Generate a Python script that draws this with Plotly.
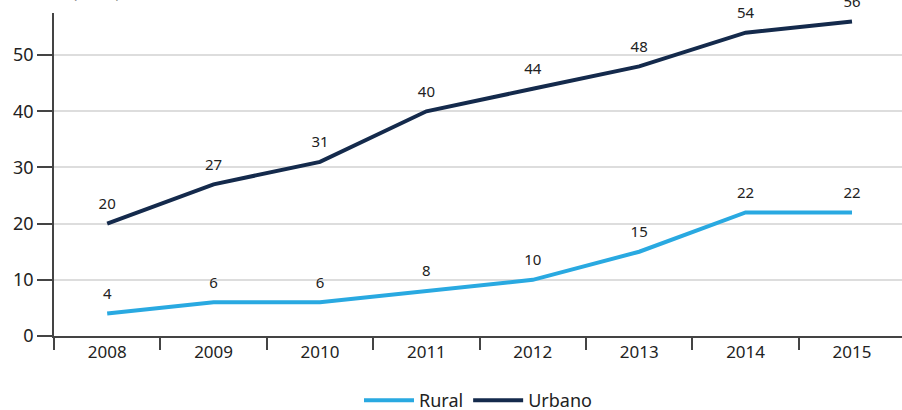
import plotly.graph_objects as go

years = ["2008", "2009", "2010", "2011", "2012", "2013", "2014", "2015"]
rural = [4, 6, 6, 8, 10, 15, 22, 22]
urbano = [20, 27, 31, 40, 44, 48, 54, 56]

FONT = "Noto Sans"
TXT = "#222222"
AXIS = "#444444"

fig = go.Figure()
for name, vals, color in [("Rural", rural, "#29A9E1"), ("Urbano", urbano, "#142A4C")]:
    fig.add_trace(go.Scatter(x=years, y=vals, name=name, mode="lines",
                             line=dict(color=color, width=4)))
    # value labels sitting above each point
    fig.add_trace(go.Scatter(x=years, y=vals, mode="markers+text", showlegend=False,
                             marker=dict(size=16, opacity=0), hoverinfo="skip",
                             text=[str(v) for v in vals], textposition="top center",
                             textfont=dict(family=FONT, size=15, color=TXT),
                             cliponaxis=False))

# figure is a bit taller than the window so the legend sits at the very bottom edge
fig.update_layout(
    width=902, height=419,
    margin=dict(l=54, r=0, t=13, b=83),
    paper_bgcolor="white", plot_bgcolor="white",
    font=dict(family=FONT, size=17, color=TXT),
    legend=dict(orientation="h", x=0.5, xanchor="center",
                yref="container", y=0.0, yanchor="bottom",
                font=dict(size=18, color=TXT), itemwidth=50),
    xaxis=dict(type="category", range=[-0.5, 7.47], showgrid=False, automargin=False,
               showline=True, linecolor=AXIS, linewidth=1.5,
               ticks="outside", tickson="boundaries", ticklen=12,
               tickcolor=AXIS, tickwidth=1.5,
               tickfont=dict(size=17, color=TXT)),
    yaxis=dict(range=[0, 57.5], tickvals=[0, 10, 20, 30, 40, 50], automargin=False,
               showgrid=True, gridcolor="#DDDDDD", gridwidth=1.5,
               showline=True, linecolor=AXIS, linewidth=1.5,
               ticks="outside", ticklen=15, tickcolor=AXIS, tickwidth=1.5,
               zeroline=False, tickfont=dict(size=18, color=TXT)),
)

# y-axis line extends a little below zero
fig.add_shape(type="line", xref="paper", yref="paper",
              x0=0, x1=0, y0=0, y1=-12 / 323,
              line=dict(color=AXIS, width=1.5))

# unit note at the top-left (mostly cut off by the top edge)
fig.add_annotation(text="(En %)", xref="paper", yref="paper", x=0, y=1,
                   xanchor="center", yanchor="bottom", xshift=42, yshift=8,
                   showarrow=False, font=dict(size=17, color=TXT))

fig.write_html("out.html", config={"displayModeBar": False},
               post_script="document.body.style.margin='0';"
                           "document.body.style.overflow='hidden';")
